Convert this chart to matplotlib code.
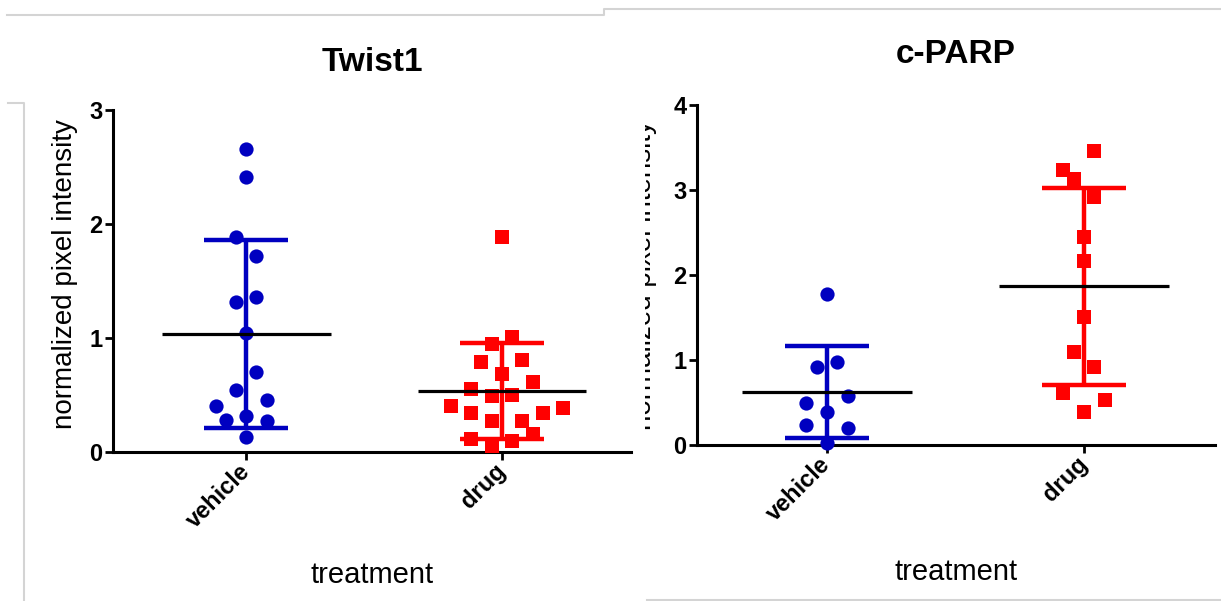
import matplotlib
matplotlib.use("Agg")
import matplotlib.pyplot as plt
import numpy as np
from matplotlib.lines import Line2D
from matplotlib.transforms import Bbox, TransformedBbox

plt.rcParams['font.family'] = ['Liberation Sans', 'DejaVu Sans']

# data
groups = ['vehicle', 'drug']

twist_vehicle = [2.66, 2.41, 1.89, 1.72, 1.32, 1.36, 1.04, 0.70, 0.54, 0.46, 0.40, 0.28, 0.32, 0.27, 0.13]
twist_vehicle_slot = [0, 0, -1, 1, -1, 1, 0, 1, -1, 2, -3, -2, 0, 2, 0]
twist_drug = [1.89, 1.01, 0.95, 0.79, 0.81, 0.68, 0.61, 0.55, 0.49, 0.50,
              0.40, 0.39, 0.34, 0.34, 0.27, 0.27, 0.11, 0.10, 0.16, 0.05]
twist_drug_slot = [0, 1, -1, -2, 2, 0, 3, -3, -1, 1, -5, 6, -3, 4, -1, 2, -3, 1, 3, -1]

parp_vehicle = [1.78, 0.92, 0.98, 0.50, 0.58, 0.39, 0.24, 0.20, 0.02]
parp_vehicle_slot = [0, -1, 1, -2, 2, 0, -2, 2, 0]
parp_drug = [3.46, 3.24, 3.13, 2.92, 2.45, 2.16, 1.51, 1.09, 0.92, 0.61, 0.53, 0.39]
parp_drug_slot = [1, -2, -1, 1, 0, 0, 0, -1, 1, -2, 2, 0]

BLUE = '#0000C0'
RED = '#FF0000'
W, H = 1221, 601
STEP = 0.04


def px(x0, y0, x1, y1):
    return [x0 / W, 1 - y1 / H, (x1 - x0) / W, (y1 - y0) / H]


def column(ax, pos, vals, slots, color, marker):
    vals = np.array(vals)
    xs = pos + np.array(slots) * STEP
    ax.scatter(xs, vals, s=105, c=color, marker=marker, linewidths=0, zorder=3, clip_on=False)
    m = vals.mean()
    sd = vals.std(ddof=1)
    ax.plot([pos, pos], [m - sd, m + sd], color=color, lw=3.2, zorder=4, solid_capstyle='butt')
    for yy in (m - sd, m + sd):
        ax.plot([pos - 0.165, pos + 0.165], [yy, yy], color=color, lw=3.2, zorder=4, solid_capstyle='butt')
    ax.plot([pos - 0.33, pos + 0.33], [m, m], color='black', lw=2.3, zorder=5, solid_capstyle='butt')


def style(ax, ymax, xlim, title, title_pad):
    ax.set_xlim(*xlim)
    ax.set_ylim(0, ymax)
    ax.set_yticks(range(ymax + 1))
    ax.set_xticks([1, 2])
    ax.set_xticklabels(groups, rotation=45, ha='right', va='center', rotation_mode='anchor',
                       fontweight='bold', fontsize=17)
    for s in ('top', 'right'):
        ax.spines[s].set_visible(False)
    for s in ('left', 'bottom'):
        ax.spines[s].set_linewidth(2.2)
    ax.tick_params(direction='out', length=5.5, width=2, pad=2, labelsize=17)
    ax.tick_params(axis='x', pad=6)
    for lab in ax.get_yticklabels():
        lab.set_fontweight('bold')
    ax.set_title(title, fontsize=24, fontweight='bold', pad=title_pad)
    ax.set_ylabel('normalized pixel intensity', fontsize=20)
    ax.set_xlabel('treatment', fontsize=21, va='baseline')


fig = plt.figure(figsize=(W / 100, H / 100), dpi=100)

ax1 = fig.add_axes(px(113, 110, 631, 452))
column(ax1, 1, twist_vehicle, twist_vehicle_slot, BLUE, 'o')
column(ax1, 2, twist_drug, twist_drug_slot, RED, 's')
style(ax1, 3, (0.479, 2.505), 'Twist1', 28)
ax1.yaxis.set_label_coords(-0.068, 0.52)
ax1.xaxis.set_label_coords(0.5, -0.383)

ax2 = fig.add_axes(px(697, 105, 1215, 445))
column(ax2, 1, parp_vehicle, parp_vehicle_slot, BLUE, 'o')
column(ax2, 2, parp_drug, parp_drug_slot, RED, 's')
style(ax2, 4, (0.494, 2.51), 'c-PARP', 30)
ax2.yaxis.set_label_coords(-0.077, 0.5)
ax2.xaxis.set_label_coords(0.5, -0.397)
# the second screenshot cuts off the left half of its axis title
clip = TransformedBbox(Bbox([[645 / W, 0], [1, 1]]), fig.transFigure)
ax2.yaxis.label.set_clip_box(clip)
ax2.yaxis.label.set_clip_on(True)

# grey screenshot borders
grey = '#D4D4D4'
borders = [
    ([7, 604, 604, 1221], [15, 15, 9, 9]),
    ([8, 24, 24], [103, 103, 601]),
    ([647, 1221], [600, 600]),
]
for xs, ys in borders:
    fig.add_artist(Line2D([x / W for x in xs], [1 - y / H for y in ys],
                          color=grey, lw=1.5, transform=fig.transFigure))

fig.savefig('out.png', dpi=100)
